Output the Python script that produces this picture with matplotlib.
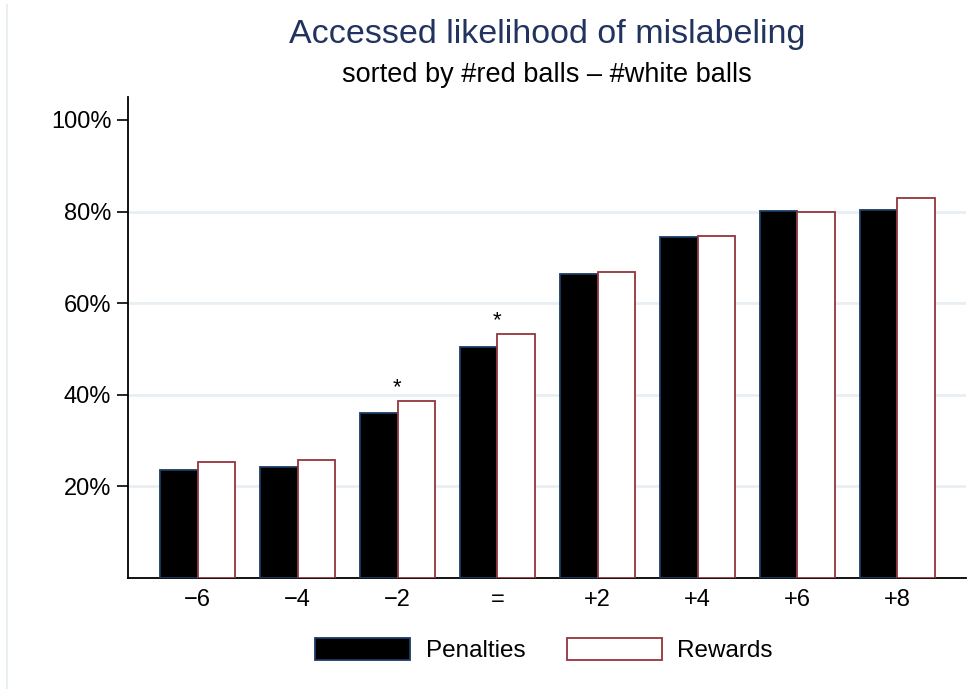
import matplotlib
matplotlib.use("Agg")
import matplotlib.pyplot as plt
from matplotlib.patches import Patch
from matplotlib.lines import Line2D
import numpy as np

plt.rcParams['font.family'] = ['Liberation Sans', 'DejaVu Sans']

categories = ["\u22126", "\u22124", "\u22122", "=", "+2", "+4", "+6", "+8"]
penalties = [23.6, 24.3, 36.0, 50.4, 66.4, 74.5, 80.1, 80.4]
rewards = [25.4, 25.8, 38.6, 53.2, 66.7, 74.7, 79.8, 83.0]
significant = [False, False, True, True, False, False, False, False]
y_ticks = [20, 40, 60, 80, 100]
y_ticklabels = ["20%", "40%", "60%", "80%", "100%"]

navy = "#1a3a64"
maroon = "#93353d"
grid_col = "#e8eff2"

fig = plt.figure(figsize=(9.78, 6.89), dpi=100)
ax = fig.add_axes([128 / 978, 1 - 578 / 689, (966 - 128) / 978, (578 - 97) / 689])

# faint outline of the graph region on the left edge
fig.add_artist(Line2D([7 / 978, 7 / 978], [0, 1 - 5 / 689], transform=fig.transFigure,
                      color=grid_col, linewidth=1.5))

x = np.arange(len(categories))
w = 0.375
ax.bar(x - w / 2, penalties, width=w, color="black", edgecolor=navy, linewidth=1.3,
       label="Penalties", zorder=3)
ax.bar(x + w / 2, rewards, width=w, color="white", edgecolor=maroon, linewidth=1.3,
       label="Rewards", zorder=3)

for i, sig in enumerate(significant):
    if sig:
        top = max(penalties[i], rewards[i])
        ax.annotate("*", xy=(x[i], top), xytext=(0, 2.5), textcoords="offset points",
                    ha="center", va="bottom", fontsize=16, color="black")

ax.set_xlim(-0.695, len(categories) - 1 + 0.685)
ax.set_ylim(0, 105)
ax.set_yticks(y_ticks)
ax.set_yticklabels(y_ticklabels)
ax.set_xticks(x)
ax.set_xticklabels(categories)

for v in y_ticks[:-1]:
    ax.axhline(v, color=grid_col, linewidth=2, zorder=1)

ax.tick_params(axis="y", direction="out", length=8, width=1.2, labelsize=17, pad=4)
ax.tick_params(axis="x", length=0, labelsize=17, pad=8)
for side in ("top", "right"):
    ax.spines[side].set_visible(False)
for side in ("left", "bottom"):
    ax.spines[side].set_linewidth(1.3)

fig.text(0.5 * (128 + 966) / 978, 1 - 34 / 689, "Accessed likelihood of mislabeling",
         ha="center", va="center", fontsize=24.5, color="#22335f")
fig.text(0.5 * (128 + 966) / 978, 1 - 75 / 689, "sorted by #red balls \u2013 #white balls",
         ha="center", va="center", fontsize=19.5, color="black")

handles = [Patch(facecolor="black", edgecolor=navy, linewidth=1.3),
           Patch(facecolor="white", edgecolor=maroon, linewidth=1.3)]
fig.legend(handles, ["Penalties", "Rewards"], loc="center",
           bbox_to_anchor=(544 / 978, 1 - 650 / 689), ncol=2, frameon=False,
           fontsize=17.5, handlelength=3.9, handleheight=1.0, handletextpad=0.65,
           columnspacing=1.7)

fig.savefig("out.png", dpi=100)
